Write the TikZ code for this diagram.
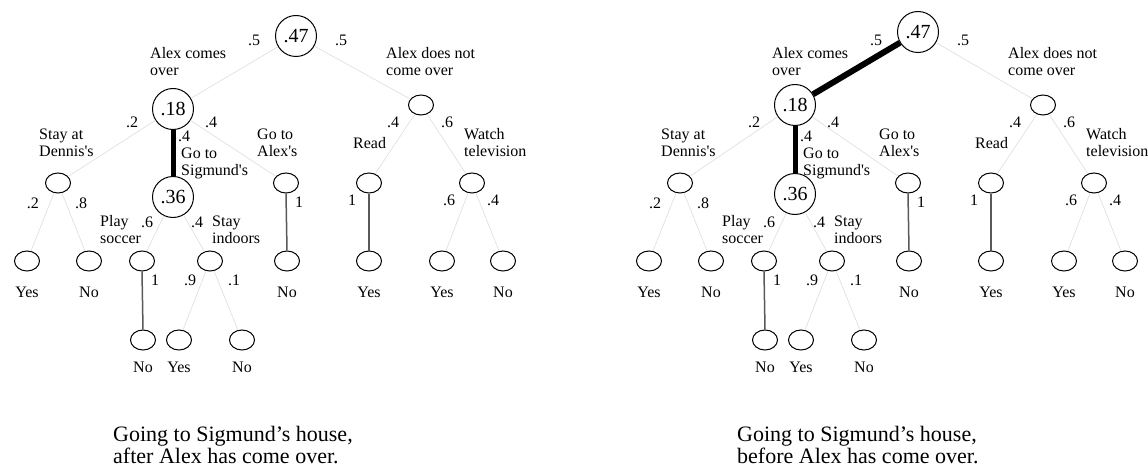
\documentclass[tikz,border=0pt]{standalone}
\usepackage{fontspec}
\setmainfont{Liberation Serif}
\usetikzlibrary{shapes.geometric}
\tikzset{
  big/.style={circle, draw, line width=1pt, minimum size=41pt, inner sep=0pt, font=\fontsize{20}{20}\selectfont},
  small/.style={ellipse, draw, line width=1pt, minimum width=25pt, minimum height=20pt, inner sep=0pt},
  lbl/.style={font=\fontsize{16}{17}\selectfont, inner sep=0pt},
  lblw/.style={lbl, align=left, anchor=west},
  captext/.style={font=\fontsize{22}{22}\selectfont, inner sep=0pt, anchor=base west},
  faint/.style={draw=black!12, line width=0.7pt},
  sure/.style={draw=black!65, line width=1.5pt},
  heavy/.style={draw=black, line width=5pt},
}
\newcommand\sq{\textquotesingle}
\newcommand\drawtree[6]{%
  % #1 root edge style, #2 root y, #3 A y, #4 A2 y, #5 caption second line, #6 caption x
  \node[big] (root) at (296,#2) {.47};
  \node[big] (A) at (173,#3) {.18};
  \node[small] (B) at (421,105) {};
  \node[small] (A1) at (58,183) {};
  \node[big] (A2) at (173,#4) {.36};
  \node[small] (A3) at (286,183) {};
  \node[small] (B1) at (369,183) {};
  \node[small] (B2) at (472,183) {};
  \node[small] (A1a) at (27,261) {};
  \node[small] (A1b) at (89,261) {};
  \node[small] (A2a) at (142,261) {};
  \node[small] (A2b) at (210,261) {};
  \node[small] (A3a) at (287,261) {};
  \node[small] (B1a) at (369,261) {};
  \node[small] (B2a) at (442,261) {};
  \node[small] (B2b) at (503,261) {};
  \node[small] (A2a1) at (143,340) {};
  \node[small] (A2b1) at (179,340) {};
  \node[small] (A2b2) at (242,340) {};
  % connectors
  \draw[#1] (root) -- (A);
  \draw[faint] (root) -- (B);
  \draw[faint] (A) -- (A1);
  \draw[heavy] (A.south) -- (A2.north);
  \draw[faint] (A) -- (A3);
  \draw[faint] (B) -- (B1);
  \draw[faint] (B) -- (B2);
  \draw[faint] (A1) -- (A1a);
  \draw[faint] (A1) -- (A1b);
  \draw[faint] (A2) -- (A2a);
  \draw[faint] (A2) -- (A2b);
  \draw[sure] (A3.south) -- (A3a.north);
  \draw[sure] (B1.south) -- (B1a.north);
  \draw[faint] (B2) -- (B2a);
  \draw[faint] (B2) -- (B2b);
  \draw[sure] (A2a.south) -- (A2a1.north);
  \draw[faint] (A2b) -- (A2b1);
  \draw[faint] (A2b) -- (A2b2);
  % probabilities
  \node[lbl] (p1) at (254,40) {.5};
  \node[lbl] (p2) at (341,40) {.5};
  \node[lbl] (p3) at (132,122) {.2};
  \node[lbl] (p4) at (211,122) {.4};
  \node[lbl] (p5) at (184,136) {.4};
  \node[lbl] (p6) at (393,122) {.4};
  \node[lbl] (p7) at (447,122) {.6};
  \node[lbl] (p8) at (33,203) {.2};
  \node[lbl] (p9) at (81,203) {.8};
  \node[lbl] (p10) at (147,222) {.6};
  \node[lbl] (p11) at (197,222) {.4};
  \node[lbl] (p12) at (299,202) {1};
  \node[lbl] (p13) at (352,200) {1};
  \node[lbl] (p14) at (449,200) {.6};
  \node[lbl] (p15) at (493,200) {.4};
  \node[lbl] (p16) at (155,280) {1};
  \node[lbl] (p17) at (190,280) {.9};
  \node[lbl] (p18) at (234,280) {.1};
  % choice labels
  \node[lblw] (t1) at (150,62) {Alex comes\\over};
  \node[lblw] (t2) at (386,62) {Alex does not\\come over};
  \node[lblw] (t3) at (39,143) {Stay at\\Dennis\sq s};
  \node[lblw] (t4) at (181,163) {Go to\\Sigmund\sq s};
  \node[lblw] (t5) at (257,143) {Go to\\Alex\sq s};
  \node[lblw] (t6) at (353,143) {Read};
  \node[lblw] (t7) at (464,143) {Watch\\television};
  \node[lblw] (t8) at (100,230) {Play\\soccer};
  \node[lblw] (t9) at (212,230) {Stay\\indoors};
  % outcomes
  \node[lbl] (o1) at (27,292) {Yes};
  \node[lbl] (o2) at (89,292) {No};
  \node[lbl] (o3) at (287,292) {No};
  \node[lbl] (o4) at (369,292) {Yes};
  \node[lbl] (o5) at (442,292) {Yes};
  \node[lbl] (o6) at (503,292) {No};
  \node[lbl] (o7) at (143,367) {No};
  \node[lbl] (o8) at (179,367) {Yes};
  \node[lbl] (o9) at (242,367) {No};
  % caption
  \node[captext] (c1) at (#6,441) {Going to Sigmund’s house,};
  \node[captext] (c2) at (#6,463) {#5};
}
\begin{document}
\begin{tikzpicture}[x=1pt,y=-1pt]
  \useasboundingbox (0,0) rectangle (1148,468);
  \begin{scope}[name prefix=L-]
    \drawtree{faint}{36}{109}{197}{after Alex has come over.}{113}
  \end{scope}
  \begin{scope}[shift={(622,0)}, name prefix=R-]
    \drawtree{heavy, line width=6pt}{32}{105}{194}{before Alex has come over.}{115}
  \end{scope}
\end{tikzpicture}
\end{document}
